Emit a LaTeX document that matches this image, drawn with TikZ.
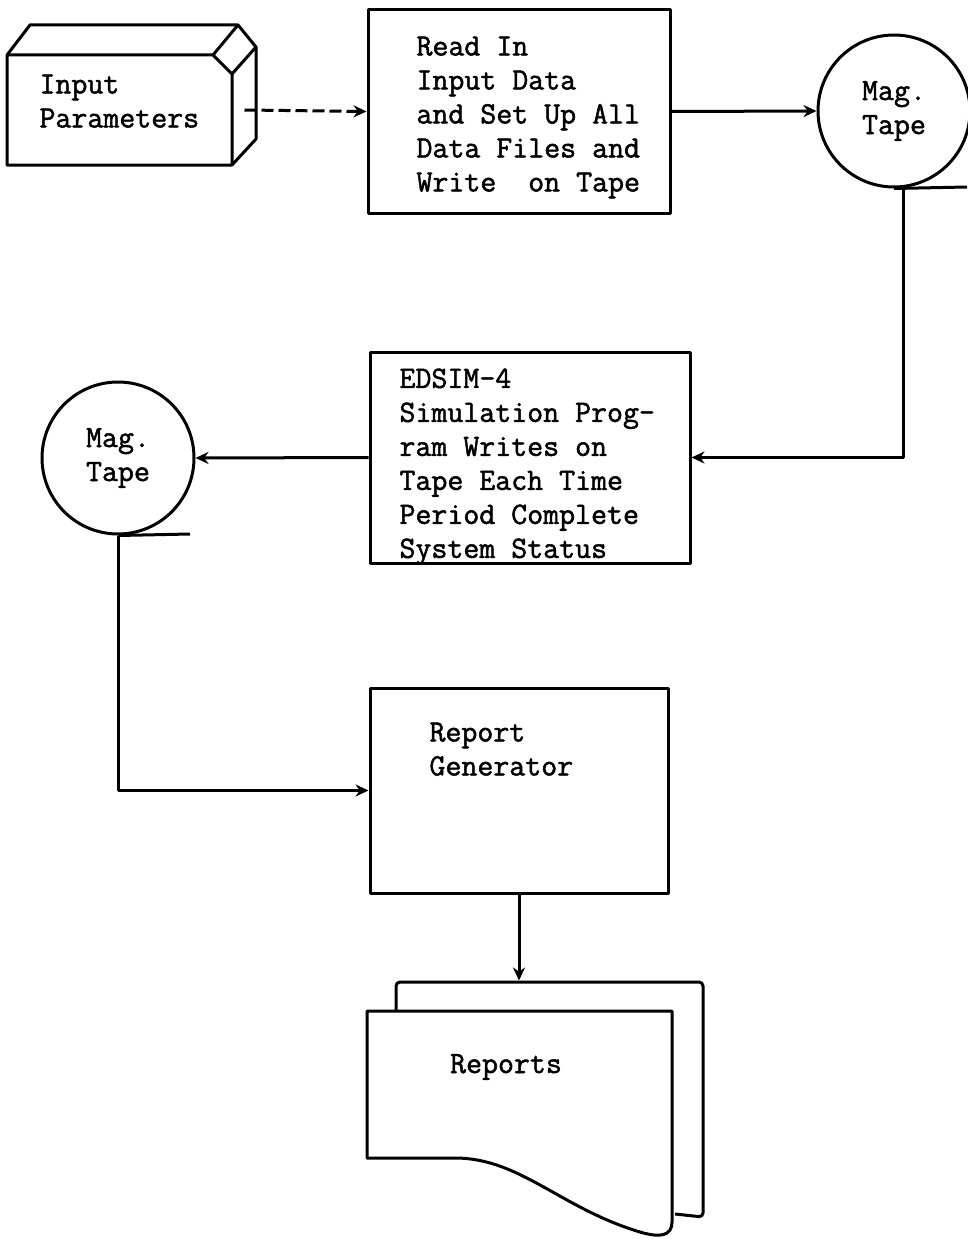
\documentclass[tikz,border=0pt]{standalone}
\usepackage{fontspec}
\newfontfamily\typewr[FakeBold=1.6]{Latin Modern Mono}
\usetikzlibrary{arrows.meta}
\begin{document}
\begin{tikzpicture}[x=1pt,y=-1pt, line width=3pt, line join=round,
  txt/.style={font=\typewr\fontsize{31}{34}\selectfont, align=left, inner sep=0pt},
  box/.style={draw, rectangle, inner sep=0pt},
  tip/.style={-{Stealth[length=13pt,width=12pt]}}]
\useasboundingbox (0,0) rectangle (967,1239);

% Input parameters (card deck)
\node[minimum width=236pt, minimum height=110pt, inner sep=0pt] (inp) at (125,110) {};
\draw (7,55) -- (213,55) -- (232,74) -- (232,165) -- (7,165) -- cycle;
\draw (7,55) -- (30,25) -- (238,25) -- (256,47) -- (256,139) -- (232,165);
\draw (213,55) -- (238,25);
\draw (256,47) -- (232,74);
\node[txt, anchor=north west] (inptxt) at (38,73) {Input\\Parameters};

% Read In box
\node[box, minimum width=302pt, minimum height=203pt] (readin) at (519,111.5) {};
\node[txt, anchor=north west] (readintxt) at (415,35) {Read In\\Input Data\\and Set Up All\\Data Files and\\Write\ \ on Tape};

% Mag tape 1
\node[draw, circle, minimum size=152pt, txt] (tape1) at (894,111) {Mag.\\Tape};
\coordinate (t1end) at (967,187);

% EDSIM box
\node[box, minimum width=320pt, minimum height=211pt] (edsim) at (530,457.5) {};
\node[txt, anchor=north west] (edsimtxt) at (398,367) {EDSIM-4\\Simulation Prog-\\ram Writes on\\Tape Each Time\\Period Complete\\System Status};

% Mag tape 2
\node[draw, circle, minimum size=152pt, txt] (tape2) at (118,458) {Mag.\\Tape};
\coordinate (t2end) at (190,534);

% Report generator
\node[box, minimum width=298pt, minimum height=205pt] (repgen) at (519,790.5) {};
\node[txt, anchor=north west] (repgentxt) at (428,721) {Report\\Generator};

% Reports document
\node[minimum width=307pt, minimum height=235pt, inner sep=0pt] (repdoc) at (549.5,1099.5) {};
\draw[rounded corners=4pt] (396,1011) -- (396,982) -- (703,982) -- (703,1217) -- (675,1214);
\draw[fill=white] (367,1158) -- (367,1011) -- (672,1011) -- (672,1222)
  .. controls (672,1236) and (660,1238) .. (640,1232)
  .. controls (560,1208) and (520,1158) .. (455,1158) -- cycle;
\node[txt] (reptxt) at (506,1067) {Reports};

% Connectors
\draw[tip, dash pattern=on 12pt off 5pt] (inp.east) -- (readin.west);
\draw[tip] (readin.east) -- (tape1.west);
\draw (tape1.south) -- (t1end);
\draw[tip] ([xshift=9pt]tape1.south) |- (edsim.east);
\draw[tip] (edsim.west) -- (tape2.east);
\draw (tape2.south) -- (t2end);
\draw[tip] (tape2.south) |- (repgen.west);
\draw[tip] (repgen.south) -- (repgen.south |- repdoc.north);
\end{tikzpicture}
\end{document}
